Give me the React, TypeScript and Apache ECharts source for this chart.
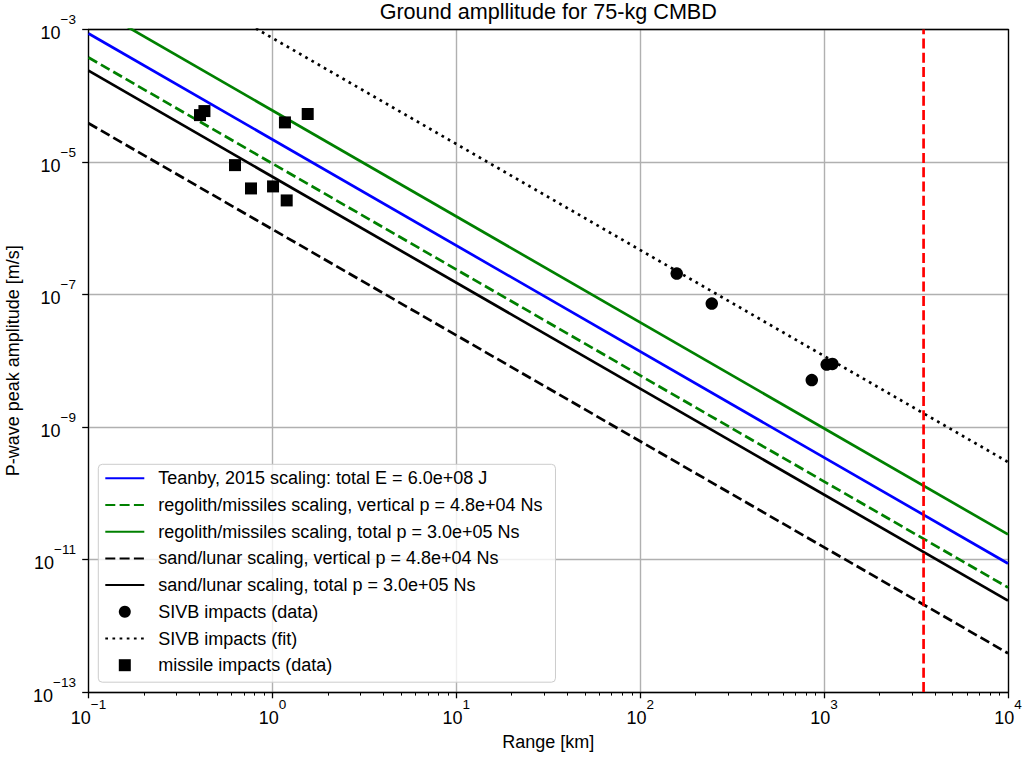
import { useEffect, useRef } from 'react';
import * as echarts from 'echarts';

const FONT = '"Liberation Sans", Arial, Helvetica, sans-serif';

// axis extents (decades)
const X_MIN_EXP = -1;
const X_MAX_EXP = 4;
const Y_MIN_EXP = -13;
const Y_MAX_EXP = -3;
const xTickExps = [-1, 0, 1, 2, 3, 4];
const yTickExps = [-13, -11, -9, -7, -5, -3];
const xMinorMultipliers = [2, 3, 4, 5, 6, 7, 8, 9];

// scaling lines: [range km, amplitude m/s]
const teanby = [[0.1, 8.7e-4], [1e4, 8.7e-12]];
const regolithVertical = [[0.1, 3.78e-4], [1e4, 3.78e-12]];
const regolithTotal = [[0.1, 2.39e-3], [1e4, 2.39e-11]];
const sandVertical = [[0.1, 3.84e-5], [1e4, 3.84e-13]];
const sandTotal = [[0.1, 2.39e-4], [1e4, 2.39e-12]];
const sivbFit = [[0.1, 2.96e-2], [1e4, 2.96e-10]];

// data points
const sivbData = [[158, 2.07e-7], [245, 7.3e-8], [857, 5.1e-9], [1033, 8.75e-9], [1109, 8.95e-9]];
const missileData = [
  [0.404, 5.1e-5], [0.427, 5.87e-5], [1.17, 3.96e-5], [1.556, 5.3e-5],
  [0.626, 8.97e-6], [0.765, 3.99e-6], [1.008, 4.28e-6], [1.196, 2.63e-6],
];
const rangeLimitKm = 3475;

const names = [
  'Teanby, 2015 scaling: total E = 6.0e+08 J',
  'regolith/missiles scaling, vertical p = 4.8e+04 Ns',
  'regolith/missiles scaling, total p = 3.0e+05 Ns',
  'sand/lunar scaling, vertical p = 4.8e+04 Ns',
  'sand/lunar scaling, total p = 3.0e+05 Ns',
  'SIVB impacts (data)',
  'SIVB impacts (fit)',
  'missile impacts (data)',
];

const tx = (v: number) => Math.log10(v) - X_MIN_EXP;
const ty = (v: number) => Math.log10(v) - Y_MIN_EXP;
const tr = (pts: number[][]) => pts.map(([x, y]) => [tx(x), ty(y)]);

const supLabel = (exp: number) => {
  const s = exp < 0 ? '\u2212' + Math.abs(exp) : String(exp);
  return '{b|10}{s|' + s + '}';
};

const richStyle = {
  b: { fontSize: 18, fontFamily: FONT, color: '#000', padding: [7, 0, 0, 0] },
  s: { fontSize: 13.5, fontFamily: FONT, color: '#000', padding: [0, 0, 20, 0] },
};

const DASH = [10, 4.3];
const DOT = [2.7, 4.45];
const LW = 2.7;

export default function App() {
  const ref = useRef<HTMLDivElement>(null);
  useEffect(() => {
    if (!ref.current) return;
    const chart = echarts.init(ref.current, null, { renderer: 'svg' });

    const minorVals: number[] = [];
    for (let e = X_MIN_EXP; e < X_MAX_EXP; e++) {
      xMinorMultipliers.forEach((m) => minorVals.push(Math.log10(m) + e - X_MIN_EXP));
    }

    const lineSeries = (name: string, pts: number[][], color: string, type: any) => ({
      name,
      type: 'line',
      xAxisIndex: 0,
      yAxisIndex: 0,
      data: tr(pts),
      symbol: 'none',
      showSymbol: false,
      silent: true,
      lineStyle: { color, width: LW, type, cap: 'butt' },
      itemStyle: { color },
      emphasis: { disabled: true },
    });

    const hiddenSymbol = { color: 'rgba(0,0,0,0)', borderWidth: 0, opacity: 0 };
    const legendData = names.map((n, i) => {
      if (i === 5) return { name: n };
      if (i === 7) return { name: n, icon: 'path://M0,0L10,0L10,10L0,10Z' };
      return { name: n, itemStyle: hiddenSymbol };
    });

    const option: any = {
      animation: false,
      textStyle: { fontFamily: FONT, color: '#000' },
      grid: { left: 88.5, top: 29.5, right: 17, bottom: 68, containLabel: false, outerBoundsMode: 'none' },
      graphic: [
        {
          type: 'text',
          x: 548.25,
          y: 11.7,
          silent: true,
          style: {
            text: 'Ground ampllitude for 75-kg CMBD',
            fontSize: 21.6,
            fontFamily: FONT,
            fill: '#000',
            align: 'center',
            verticalAlign: 'middle',
          },
        },
      ],
      xAxis: [
        {
          type: 'value',
          min: 0,
          max: X_MAX_EXP - X_MIN_EXP,
          interval: 1,
          position: 'bottom',
          name: 'Range [km]',
          nameLocation: 'middle',
          nameGap: 41,
          nameTextStyle: { fontSize: 18, fontFamily: FONT, color: '#000' },
          axisLine: { show: true, onZero: false, lineStyle: { color: '#000', width: 1.3 } },
          axisTick: { show: true, length: 6.3, lineStyle: { color: '#000', width: 1.3 } },
          axisLabel: {
            show: true,
            margin: 5.6,
            formatter: (v: number) => (xTickExps.includes(Math.round(v) + X_MIN_EXP) ? supLabel(Math.round(v) + X_MIN_EXP) : ''),
            rich: richStyle,
          },
          splitLine: { show: true, lineStyle: { color: '#b0b0b0', width: 1.4 } },
        },
        {
          type: 'value',
          min: 0,
          max: X_MAX_EXP - X_MIN_EXP,
          position: 'bottom',
          axisLine: { show: false, onZero: false },
          axisLabel: { show: false },
          splitLine: { show: false },
          axisTick: { show: true, length: 3.6, customValues: minorVals, lineStyle: { color: '#000', width: 1 } },
        },
        {
          type: 'value',
          min: 0,
          max: X_MAX_EXP - X_MIN_EXP,
          position: 'top',
          axisLine: { show: true, onZero: false, lineStyle: { color: '#000', width: 1.3 } },
          axisLabel: { show: false },
          axisTick: { show: false },
          splitLine: { show: false },
        },
      ],
      yAxis: [
        {
          type: 'value',
          min: 0,
          max: Y_MAX_EXP - Y_MIN_EXP,
          interval: 2,
          position: 'left',
          name: 'P-wave peak amplitude [m/s]',
          nameLocation: 'middle',
          nameGap: 63,
          nameTextStyle: { fontSize: 18, fontFamily: FONT, color: '#000' },
          axisLine: { show: true, onZero: false, lineStyle: { color: '#000', width: 1.3 } },
          axisTick: { show: true, length: 6.3, lineStyle: { color: '#000', width: 1.3 } },
          axisLabel: {
            show: true,
            margin: 12.5,
            formatter: (v: number) => (yTickExps.includes(Math.round(v) + Y_MIN_EXP) ? supLabel(Math.round(v) + Y_MIN_EXP) : ''),
            rich: richStyle,
          },
          splitLine: { show: true, lineStyle: { color: '#b0b0b0', width: 1.4 } },
        },
        {
          type: 'value',
          min: 0,
          max: Y_MAX_EXP - Y_MIN_EXP,
          position: 'right',
          axisLine: { show: true, onZero: false, lineStyle: { color: '#000', width: 1.3 } },
          axisLabel: { show: false },
          axisTick: { show: false },
          splitLine: { show: false },
        },
      ],
      legend: {
        show: true,
        orient: 'vertical',
        left: 98.3,
        top: 464.3,
        itemWidth: 39,
        itemHeight: 12,
        itemGap: 8.7,
        padding: [5, 13, 8, 6],
        backgroundColor: 'rgba(255,255,255,0.8)',
        borderColor: '#cccccc',
        borderWidth: 1,
        borderRadius: 4,
        selectedMode: false,
        symbolKeepAspect: true,
        textStyle: { fontSize: 18, fontFamily: FONT, color: '#000', lineHeight: 18, padding: [0, 0, 0, 9] },
        data: legendData,
      },
      series: [
        lineSeries(names[0], teanby, '#0000ff', 'solid'),
        lineSeries(names[1], regolithVertical, '#008000', DASH),
        lineSeries(names[2], regolithTotal, '#008000', 'solid'),
        lineSeries(names[3], sandVertical, '#000000', DASH),
        lineSeries(names[4], sandTotal, '#000000', 'solid'),
        {
          name: names[5],
          type: 'scatter',
          data: tr(sivbData),
          symbol: 'circle',
          symbolSize: 12.5,
          itemStyle: { color: '#000', opacity: 1 },
          silent: true,
          z: 3,
        },
        lineSeries(names[6], sivbFit, '#000000', DOT),
        {
          name: names[7],
          type: 'scatter',
          data: tr(missileData),
          symbol: 'rect',
          symbolSize: 12,
          itemStyle: { color: '#000', opacity: 1 },
          silent: true,
          z: 3,
        },
        {
          name: 'lunar range limit',
          type: 'line',
          data: tr([[rangeLimitKm, 1e-13], [rangeLimitKm, 1e-3]]),
          symbol: 'none',
          silent: true,
          lineStyle: { color: '#ff0000', width: LW, type: DASH },
          z: 4,
        },
      ],
    };
    chart.setOption(option);
    return () => chart.dispose();
  }, []);
  return (
    <div
      ref={ref}
      style={{ position: 'fixed', left: 0, top: 0, width: 1025, height: 760, background: '#fff' }}
    />
  );
}
